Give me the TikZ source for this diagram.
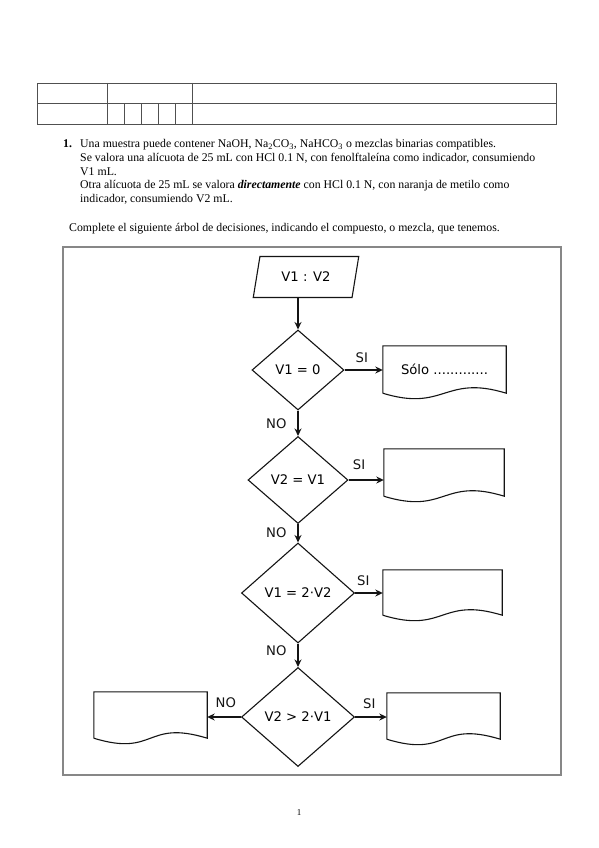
\documentclass[tikz,border=0pt]{standalone}
\usepackage{fontspec}
\setmainfont{Liberation Serif}
\newfontfamily\flowfont{DejaVu Sans}
\usepackage{tikz}
\usetikzlibrary{shapes.geometric, arrows.meta, positioning, calc}
\definecolor{mydark}{RGB}{20,20,20}
\definecolor{mygrid}{RGB}{80,80,80}
\definecolor{myframe}{RGB}{135,135,135}
\tikzset{
  decision/.style={diamond, draw=mydark, inner sep=0pt,
    font=\flowfont\fontsize{13.2}{15}\selectfont, line width=1.1pt},
  iobox/.style={trapezium, trapezium left angle=70, trapezium right angle=110,
    trapezium stretches=true, draw=mydark, inner sep=0pt,
    font=\flowfont\fontsize{13.2}{15}\selectfont, line width=1.1pt},
  docbox/.style={rectangle, inner sep=0pt,
    font=\flowfont\fontsize{13.2}{15}\selectfont},
  docline/.style={line width=1.1pt, color=mydark},
  arrow/.style={-{Stealth[length=7.5pt,width=7pt]}, line width=1.1pt, color=mydark},
  lbl/.style={font=\flowfont\fontsize{13.2}{15}\selectfont, inner sep=0pt},
  txt/.style={anchor=base west, inner sep=0pt, font=\fontsize{11.8}{13.8}\selectfont},
  grid/.style={line width=0.8pt, color=mygrid}
}
% outline of a document box with a wavy bottom edge
\newcommand{\docoutline}[1]{%
  \draw[docline] (#1.south west) -- (#1.north west) -- (#1.north east) -- (#1.south east)
    .. controls +(-62,-19) and +(62,19) .. (#1.south west);}

\begin{document}
\begin{tikzpicture}[x=1pt, y=-1pt]
  \path[use as bounding box, fill=white] (0,0) rectangle (599,848);

  % header table
  \draw[grid] (37,83) rectangle (556,124);
  \draw[grid] (37,103.5) -- (556,103.5);
  \draw[grid] (107,83) -- (107,124);
  \draw[grid] (192.5,83) -- (192.5,124);
  \draw[grid] (124,103.5) -- (124,124);
  \draw[grid] (141,103.5) -- (141,124);
  \draw[grid] (158,103.5) -- (158,124);
  \draw[grid] (175,103.5) -- (175,124);

  % statement
  \node[txt] (num) at (63,147.5) {\textbf{1.}};
  \node[txt] (l1) at (80,147.5) {Una muestra puede contener NaOH, Na\textsubscript{2}CO\textsubscript{3}, NaHCO\textsubscript{3} o mezclas binarias compatibles.};
  \node[txt] (l2) at (80,161.3) {Se valora una alícuota de 25 mL con HCl 0.1 N, con fenolftaleína como indicador, consumiendo};
  \node[txt] (l3) at (80,175.1) {V1 mL.};
  \node[txt] (l4) at (80,188.9) {Otra alícuota de 25 mL se valora \textbf{\textit{directamente}} con HCl 0.1 N, con naranja de metilo como};
  \node[txt] (l5) at (80,202.7) {indicador, consumiendo V2 mL.};
  \node[txt] (task) at (69,231) {Complete el siguiente árbol de decisiones, indicando el compuesto, o mezcla, que tenemos.};

  % frame
  \draw[myframe, line width=1.6pt] (63,247) rectangle (561,775);

  % flowchart
  \node[iobox, minimum width=106, minimum height=41] (in) at (306,277) {V1 : V2};
  \node[decision, minimum width=92, minimum height=80] (d1) at (298,370) {V1 = 0};
  \node[decision, minimum width=100, minimum height=87] (d2) at (298,480) {V2 = V1};
  \node[decision, minimum width=113, minimum height=100] (d3) at (298,593) {V1 = 2·V2};
  \node[decision, minimum width=113, minimum height=99] (d4) at (298,717) {V2 > 2·V1};

  \node[docbox, minimum width=123, minimum height=47] (b1) at (444.5,369.5) {Sólo .............};
  \node[docbox, minimum width=120, minimum height=47] (b2) at (444,472.5) {};
  \node[docbox, minimum width=119, minimum height=45] (b3) at (442.5,592.5) {};
  \node[docbox, minimum width=113, minimum height=46] (b4) at (443.5,716) {};
  \node[docbox, minimum width=113, minimum height=46] (b5) at (150.5,715) {};
  \docoutline{b1}
  \docoutline{b2}
  \docoutline{b3}
  \docoutline{b4}
  \docoutline{b5}

  \draw[arrow] (d1.north |- in.south) -- (d1.north);
  \draw[arrow] (d1) -- node[lbl, left=11pt, pos=0.5] {NO} (d2);
  \draw[arrow] (d2) -- node[lbl, left=11pt, pos=0.45] {NO} (d3);
  \draw[arrow] (d3) -- node[lbl, left=11pt, pos=0.3] {NO} (d4);
  \draw[arrow] (d1.east) -- node[lbl, above=7pt, pos=0.45] {SI} (d1.east -| b1.west);
  \draw[arrow] (d2.east) -- node[lbl, above=10pt, pos=0.3] {SI} (d2.east -| b2.west);
  \draw[arrow] (d3.east) -- node[lbl, above=7pt, pos=0.3] {SI} (d3.east -| b3.west);
  \draw[arrow] (d4.east) -- node[lbl, above=8pt, pos=0.45] {SI} (d4.east -| b4.west);
  \draw[arrow] (d4.west) -- node[lbl, above=9pt, pos=0.45] {NO} (d4.west -| b5.east);

  % page number
  \node[inner sep=0pt, font=\fontsize{9}{11}\selectfont] (page) at (299,813) {1};
\end{tikzpicture}
\end{document}
